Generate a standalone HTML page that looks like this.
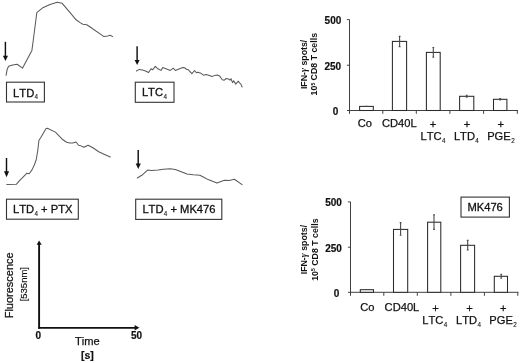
<!DOCTYPE html>
<html><head><meta charset="utf-8">
<style>
html,body{margin:0;padding:0;background:#fff;width:520px;height:363px;overflow:hidden}
svg{display:block;will-change:transform;font-family:"Liberation Sans",sans-serif;font-kerning:none}
text{font-kerning:none}
.tr{fill:none;stroke:#5a5a5a;stroke-width:1.05;stroke-linejoin:round;stroke-linecap:round}
.bx{fill:none;stroke:#333;stroke-width:1.1}
.lb{font-size:11.2px;fill:#111;stroke:#111;stroke-width:0.3}
.sb{font-size:6.3px;stroke-width:0.1}
.ax{stroke:#404040;stroke-width:1;fill:none}
.bar{fill:#fff;stroke:#2a2a2a;stroke-width:1.05}
.eb{stroke:#4a4a4a;stroke-width:1.1;fill:none}
.num{font-size:10px;font-weight:bold;fill:#111;stroke:#111;stroke-width:0.2}
.cat{font-size:11.15px;fill:#111;stroke:#111;stroke-width:0.25}
.yl{font-size:8.8px;font-weight:bold;fill:#111}
</style></head><body>
<svg width="520" height="363" viewBox="0 0 520 363">
<!-- ===== Trace 1: LTD4 ===== -->
<polyline class="tr" points="6.1,75.3 7.2,69.2 8.6,66.2 12.7,65.1 17.1,64.2 22.6,68.1 31.9,50.4 33.3,40 36.8,12.7 42.9,7.7 50,4.4 57.2,2.2 62.2,3.3 69.9,12.4 76.1,19.8 80.5,22.9 82.9,24.2 86.7,24.8 89.8,26.7 104,36.6 107.7,35.9 110.2,35.3 112.7,36.6"/>
<line x1="5.4" y1="41.8" x2="5.4" y2="56.5" stroke="#111" stroke-width="1.45"/>
<polygon points="2.9,55.8 8,55.8 5.45,61" fill="#111"/>
<rect class="bx" x="6.5" y="82.2" width="37.9" height="19.8"/>
<text class="lb" x="13.1" y="96.5">LTD<tspan class="sb" dx="0.3" dy="2.8">4</tspan></text>

<!-- ===== Trace 2: LTC4 ===== -->
<polyline class="tr" points="136.4,71 139.3,69.4 142.4,70.1 145.5,71 148.6,72.5 151,68.8 152.5,69.8 155.4,66.3 157.9,68.8 161,70.4 162.8,67.5 167.8,69.4 170.3,70.4 173.3,68.2 175.4,70.5 178.3,69.2 182.8,67.4 184.5,67.8 186.5,69.2 188.2,69.7 191.9,73.6 194.6,70.5 196.4,72.8 197.7,72.2 201,73.3 203.5,75.2 206,74.4 207.9,74.9 212.2,76.6 214.6,75.4 217.5,75.1 219.5,75.9 222.3,79.7 224.3,80.2 226.2,78.5 228.6,79 230,80.2 231,78.8 232.5,82.6 233.7,80.7 235.8,84.1 238.2,81.2 239.7,83.1 240.6,83.6 242.1,87"/>
<line x1="137.1" y1="46.2" x2="137.1" y2="60.8" stroke="#111" stroke-width="1.45"/>
<polygon points="134.6,60.1 139.6,60.1 137.1,65" fill="#111"/>
<rect class="bx" x="135.3" y="82.2" width="38.7" height="20.1"/>
<text class="lb" x="141.9" y="96.4">LTC<tspan class="sb" dx="0.4" dy="2.9">4</tspan></text>

<!-- ===== Trace 3: LTD4 + PTX ===== -->
<polyline class="tr" points="6.8,184.4 16.5,184.2 19.3,180.9 27,173.2 29.2,173.7 32,169.9 34.3,165 36.2,159.7 37.7,151 38.9,140.5 40.5,138 46.1,128.4 47.4,128.3 55.4,132.1 62.2,139.2 66.6,142.3 69.8,143 72.7,143 76.1,142 78.5,145.2 79.9,145.4 83.8,147.3 88.1,145.2 92.9,147.8 98.7,151.7 103.5,153.9 110.3,157"/>
<line x1="6.5" y1="158" x2="6.5" y2="172" stroke="#111" stroke-width="1.45"/>
<polygon points="4,171.3 9.1,171.3 6.55,177.2" fill="#111"/>
<rect class="bx" x="6.5" y="199.2" width="71.8" height="20"/>
<text class="lb" x="13" y="213.1">LTD<tspan class="sb" dx="0.3" dy="2.8">4</tspan><tspan dy="-2.8"> + PTX</tspan></text>

<!-- ===== Trace 4: LTD4 + MK476 ===== -->
<polyline class="tr" points="137.3,178 142.6,174.7 147.6,170.1 151.4,170.6 158,170.1 163.5,169.2 170.2,168.7 175.3,169.5 180.6,171.4 186.9,174.1 193.1,174.7 199.9,175.2 202.8,176.7 208.1,179.6 210,180.2 217,183.1 224.3,180.2 229.1,180.5 234.4,179.3 242.1,184.6"/>
<line x1="138.2" y1="150" x2="138.2" y2="164.3" stroke="#111" stroke-width="1.45"/>
<polygon points="135.7,163.6 140.8,163.6 138.25,168.9" fill="#111"/>
<rect class="bx" x="135.7" y="199.2" width="86.1" height="20.2"/>
<text class="lb" x="142.4" y="213.2">LTD<tspan class="sb" dx="0.3" dy="2.8">4</tspan><tspan dy="-2.8"> + MK476</tspan></text>

<!-- ===== Scale bar ===== -->
<line x1="39.1" y1="243.5" x2="39.1" y2="328.7" stroke="#111" stroke-width="1.9"/>
<polygon points="36.6,244.8 41.7,244.8 39.1,240.5" fill="#111"/>
<line x1="38.15" y1="327.8" x2="135.5" y2="327.8" stroke="#111" stroke-width="1.7"/>
<polygon points="134.6,325 134.6,330.4 139.4,327.7" fill="#111"/>
<text class="num" x="38.2" y="339" text-anchor="middle">0</text>
<text class="num" x="136.5" y="339" text-anchor="middle">50</text>
<text class="cat" x="75" y="345.4">Time</text>
<text class="num" x="87.4" y="359.4" text-anchor="middle" style="font-size:10.5px">[s]</text>
<text transform="translate(13.4,285.3) rotate(-90)" text-anchor="middle" class="cat" style="font-size:11px">Fluorescence</text>
<text transform="translate(27.3,284.2) rotate(-90)" text-anchor="middle" class="cat" style="font-size:9.5px;stroke-width:0.15">[535nm]</text>

<!-- ===== Bar chart 1 ===== -->
<g>
<text class="yl" transform="translate(306.6,64.4) rotate(-90)" text-anchor="middle">IFN-<tspan style="font-family:'Liberation Serif';font-style:italic;font-size:9.5px">γ</tspan> spots/</text>
<text class="yl" transform="translate(317.3,64.2) rotate(-90)" text-anchor="middle">10<tspan style="font-size:5px" dy="-2.6">5</tspan><tspan dy="2.6"> CD8 T cells</tspan></text>
<text class="num" x="341.3" y="24.2" text-anchor="end">500</text>
<text class="num" x="341.2" y="69.8" text-anchor="end">250</text>
<text class="num" x="338.3" y="115.2" text-anchor="end">0</text>
<path class="ax" d="M349.5,19.6 V113.8 M346.9,19.6 H349.5 M346.9,65.2 H349.5 M347,110.5 H518 M382.8,110.5 V113.8 M416.3,110.5 V113.8 M449.9,110.5 V113.8 M483.6,110.5 V113.8 M517.3,110.5 V113.8"/>
<rect class="bar" x="359.6" y="106.4" width="13.7" height="4.1"/>
<rect class="bar" x="392.4" y="41.4" width="14.2" height="69.1"/>
<rect class="bar" x="426.4" y="52.4" width="13.8" height="58.1"/>
<rect class="bar" x="459.6" y="96.3" width="14.2" height="14.2"/>
<rect class="bar" x="493.5" y="99.3" width="13.4" height="11.2"/>
<path class="eb" d="M365.7,106.2 H367.5 M399.6,36.4 V46.6 M398.7,36.4 H400.5 M398.7,46.6 H400.5 M433.3,47.5 V57.1 M432.4,47.5 H434.2 M432.4,57.1 H434.2 M466.7,95.3 V97.3 M465.8,95.3 H467.6 M465.8,97.3 H467.6 M500.2,98.6 V100.0 M499.3,98.6 H501.1 M499.3,100.0 H501.1"/>
<text class="cat" x="357.8" y="126.8">Co</text>
<text class="cat" x="382" y="126.8">CD40L</text>
<text class="cat" x="433" y="127.6" text-anchor="middle">+</text>
<text class="cat" x="467.1" y="127.6" text-anchor="middle">+</text>
<text class="cat" x="500.8" y="127.6" text-anchor="middle">+</text>
<text class="cat" x="420.5" y="140">LTC<tspan class="sb" dx="0.4" dy="2.7">4</tspan></text>
<text class="cat" x="453.9" y="140">LTD<tspan class="sb" dx="0.4" dy="2.7">4</tspan></text>
<text class="cat" x="487.2" y="140">PGE<tspan class="sb" dx="0.4" dy="2.7">2</tspan></text>
</g>

<!-- ===== Bar chart 2 ===== -->
<g>
<text class="yl" transform="translate(306.5,249.6) rotate(-90)" text-anchor="middle">IFN-<tspan style="font-family:'Liberation Serif';font-style:italic;font-size:9.5px">γ</tspan> spots/</text>
<text class="yl" transform="translate(317.6,249.6) rotate(-90)" text-anchor="middle">10<tspan style="font-size:5px" dy="-2.6">5</tspan><tspan dy="2.6"> CD8 T cells</tspan></text>
<text class="num" x="341.9" y="205.8" text-anchor="end">500</text>
<text class="num" x="341.9" y="251.5" text-anchor="end">250</text>
<text class="num" x="339.2" y="296.5" text-anchor="end">0</text>
<path class="ax" d="M350.5,201.9 V295.8 M347.9,201.9 H350.5 M347.9,247.2 H350.5 M348,292.3 H518.5 M383.8,292.3 V295.8 M417.3,292.3 V295.8 M450.9,292.3 V295.8 M484.4,292.3 V295.8 M517.8,292.3 V295.8"/>
<rect class="bar" x="360.3" y="289.7" width="13.2" height="2.6"/>
<rect class="bar" x="393.5" y="229.4" width="14.2" height="62.9"/>
<rect class="bar" x="427.6" y="222.2" width="13.2" height="70.1"/>
<rect class="bar" x="460.6" y="245.3" width="14" height="47"/>
<rect class="bar" x="494.3" y="276.3" width="13.2" height="16"/>
<path class="eb" d="M366.2,289.5 H368.0 M400.6,222.6 V235.3 M399.7,222.6 H401.5 M399.7,235.3 H401.5 M434.0,214.9 V229.4 M433.1,214.9 H434.9 M433.1,229.4 H434.9 M467.7,240.4 V249.9 M466.8,240.4 H468.6 M466.8,249.9 H468.6 M501.2,274.3 V278.2 M500.3,274.3 H502.1 M500.3,278.2 H502.1"/>
<rect class="bx" x="461" y="197.1" width="48.4" height="20"/>
<text class="lb" x="467.4" y="211.1">MK476</text>
<text class="cat" x="360.2" y="310.8">Co</text>
<text class="cat" x="384.6" y="310.8">CD40L</text>
<text class="cat" x="435.6" y="312" text-anchor="middle">+</text>
<text class="cat" x="469.5" y="312" text-anchor="middle">+</text>
<text class="cat" x="503.2" y="312" text-anchor="middle">+</text>
<text class="cat" x="422.2" y="324.3">LTC<tspan class="sb" dx="0.4" dy="2.7">4</tspan></text>
<text class="cat" x="456.1" y="324.3">LTD<tspan class="sb" dx="0.4" dy="2.7">4</tspan></text>
<text class="cat" x="489.3" y="324.3">PGE<tspan class="sb" dx="0.4" dy="2.7">2</tspan></text>
</g>
</svg>
</body></html>
